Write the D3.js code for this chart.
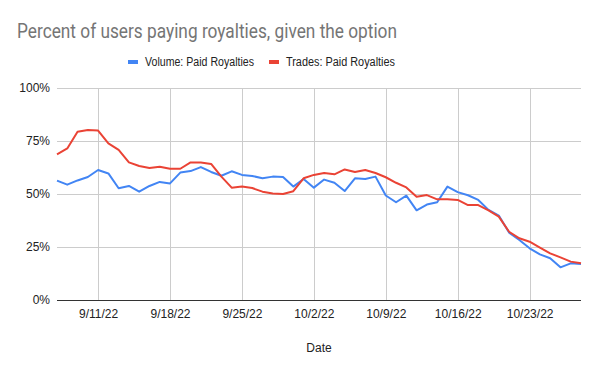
<!DOCTYPE html>
<html lang="en">
<head>
    <meta charset="UTF-8">
    <title>Percent of users paying royalties</title>
    <script src="https://d3js.org/d3.v7.min.js"></script>
    <style>
        body { margin: 0; background: #fff; }
        text { font-family: "Liberation Sans", Arial, sans-serif; }
        .grid line { stroke: #cccccc; shape-rendering: crispEdges; }
        path.line { fill: none; stroke-width: 2; stroke-linejoin: round; }
    </style>
</head>
<body>
<script>
    const width  = 600;
    const height = 371;
    const margin = {top: 88, right: 19, bottom: 71, left: 57};

    const dates = [
        "2022-09-07","2022-09-08","2022-09-09","2022-09-10","2022-09-11","2022-09-12","2022-09-13",
        "2022-09-14","2022-09-15","2022-09-16","2022-09-17","2022-09-18","2022-09-19","2022-09-20",
        "2022-09-21","2022-09-22","2022-09-23","2022-09-24","2022-09-25","2022-09-26","2022-09-27",
        "2022-09-28","2022-09-29","2022-09-30","2022-10-01","2022-10-02","2022-10-03","2022-10-04",
        "2022-10-05","2022-10-06","2022-10-07","2022-10-08","2022-10-09","2022-10-10","2022-10-11",
        "2022-10-12","2022-10-13","2022-10-14","2022-10-15","2022-10-16","2022-10-17","2022-10-18",
        "2022-10-19","2022-10-20","2022-10-21","2022-10-22","2022-10-23","2022-10-24","2022-10-25",
        "2022-10-26","2022-10-27","2022-10-28"
    ];

    // percent values
    const volume = [
        56.3,54.4,56.4,58.0,61.3,59.7,52.7,53.8,51.1,53.8,55.7,
        55.0,60.1,60.8,62.7,60.4,58.6,60.7,59.0,58.5,57.4,
        58.2,58.0,53.5,57.1,53.0,56.8,55.3,51.4,57.4,57.1,58.2,
        49.3,46.1,49.2,42.3,45.0,46.1,53.5,50.9,49.4,47.2,
        42.5,39.8,31.8,28.3,24.4,21.5,19.7,15.4,17.3,17.0
    ];
    const trades = [
        68.7,71.5,79.4,80.2,79.9,73.9,70.8,64.9,63.2,62.3,62.9,
        61.9,61.9,64.9,64.9,64.2,58.2,53.0,53.5,52.8,51.1,
        50.2,50.0,51.3,57.4,59.0,59.9,59.3,61.6,60.4,61.3,59.9,
        57.9,55.3,53.1,48.7,49.5,47.5,47.5,47.2,44.8,44.8,
        42.3,39.3,32.2,29.1,27.5,24.7,22.0,20.1,18.1,17.3
    ];

    const seriesNames = ["Volume: Paid Royalties", "Trades: Paid Royalties"];
    const seriesColors = ["#4285f4", "#ea4335"];

    const yTicks = [0, 25, 50, 75, 100];
    const xTickDates = ["2022-09-11","2022-09-18","2022-09-25","2022-10-02","2022-10-09","2022-10-16","2022-10-23"];
    const xTickLabels = ["9/11/22","9/18/22","9/25/22","10/2/22","10/9/22","10/16/22","10/23/22"];

    const parse = d3.timeParse("%Y-%m-%d");
    const days = dates.map(parse);
    const tickDays = xTickDates.map(parse);

    const scaleX = d3.scaleTime()
                     .domain(d3.extent(days))
                     .range([margin.left, width - margin.right]);

    const scaleY = d3.scaleLinear()
                     .domain([0, 100])
                     .range([height - margin.bottom, margin.top]);

    const svg = d3.select("body").append("svg").attr("width", width).attr("height", height);

    // title
    svg.append("text")
       .attr("x", 17).attr("y", 38)
       .attr("textLength", 380)
       .attr("lengthAdjust", "spacingAndGlyphs")
       .style("font-family", "Roboto, sans-serif")
       .style("font-size", "20px")
       .attr("fill", "#757575")
       .text("Percent of users paying royalties, given the option");

    // legend
    const legendX = [128, 269];
    seriesNames.forEach((name, i) => {
        svg.append("rect")
           .attr("x", legendX[i]).attr("y", 60)
           .attr("width", 10).attr("height", 4)
           .attr("fill", seriesColors[i]);
        svg.append("text")
           .attr("x", legendX[i] + 17).attr("y", 66)
           .attr("textLength", 109)
           .attr("lengthAdjust", "spacingAndGlyphs")
           .style("font-size", "12px")
           .attr("fill", "#222")
           .text(name);
    });

    // gridlines
    const yAxis = d3.axisLeft(scaleY)
                    .tickValues(yTicks)
                    .tickSize(-(width - margin.left - margin.right))
                    .tickPadding(7)
                    .tickFormat(d => d + "%");
    const gy = svg.append("g").attr("class", "grid")
                  .attr("transform", "translate(" + [margin.left, 0] + ")")
                  .call(yAxis);
    gy.select(".domain").remove();
    gy.selectAll("text").style("font-size", "12px").attr("fill", "#222");

    const xAxis = d3.axisBottom(scaleX)
                    .tickValues(tickDays)
                    .tickSize(-(height - margin.top - margin.bottom))
                    .tickPadding(9)
                    .tickFormat((d, i) => xTickLabels[i]);
    const gx = svg.append("g").attr("class", "grid")
                  .attr("transform", "translate(" + [0, height - margin.bottom] + ")")
                  .call(xAxis);
    gx.select(".domain").remove();
    gx.selectAll("text").style("font-size", "12px").attr("fill", "#222");

    // lines
    const line = d3.line()
                   .x((d, i) => scaleX(days[i]))
                   .y(d => scaleY(d));

    [volume, trades].forEach((vals, i) => {
        svg.append("path").attr("class", "line")
           .attr("stroke", seriesColors[i])
           .attr("d", line(vals));
    });

    // baseline
    svg.append("line")
       .attr("x1", margin.left).attr("x2", width - margin.right)
       .attr("y1", scaleY(0)).attr("y2", scaleY(0))
       .attr("stroke", "#333")
       .style("shape-rendering", "crispEdges");

    // x axis title
    svg.append("text")
       .attr("x", (margin.left + width - margin.right) / 2)
       .attr("y", 352)
       .attr("text-anchor", "middle")
       .style("font-size", "12px")
       .attr("fill", "#222")
       .text("Date");
</script>
</body>
</html>
